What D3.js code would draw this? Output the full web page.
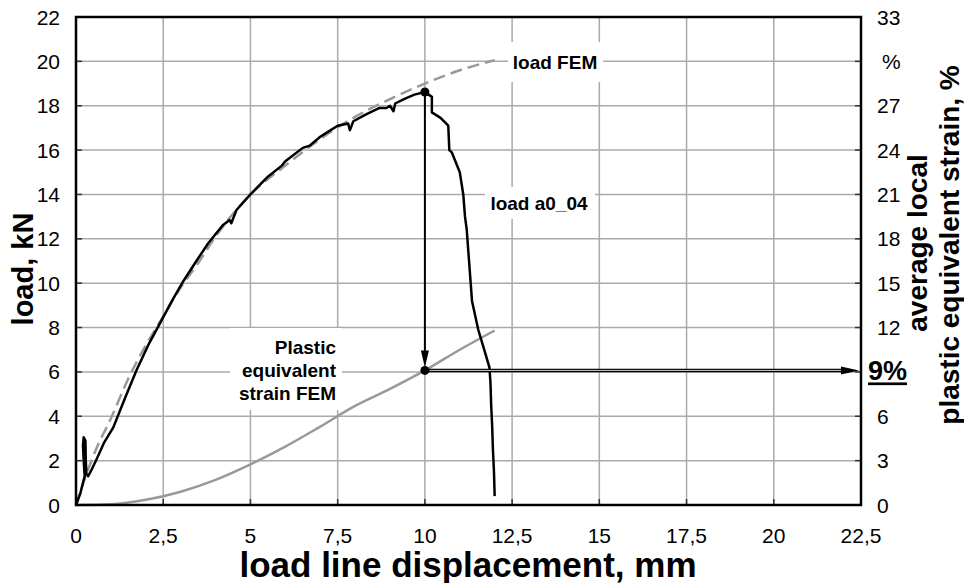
<!DOCTYPE html>
<html>
<head>
<meta charset="utf-8">
<script src="https://cdn.jsdelivr.net/npm/d3@7"></script>
<style>
  body { margin: 0; background: #fff; }
  text { font-family: "Liberation Sans", Arial, sans-serif; }
</style>
</head>
<body>
<svg id="chart" width="964" height="583"></svg>
<script>
// x ticks (displacement, mm) and labels with decimal comma
var xTicks = [0, 2.5, 5, 7.5, 10, 12.5, 15, 17.5, 20, 22.5];
var yTicks = [0, 2, 4, 6, 8, 10, 12, 14, 16, 18, 20, 22];
var y2Ticks = [0, 3, 6, 9, 12, 15, 18, 21, 24, 27, 30, 33];
var y2Labels = ["0", "3", "6", "", "12", "15", "18", "21", "24", "27", "", "33"];

// measured load, kN
var loadTest = [
  [0, 0], [0.12, 0.5], [0.2, 1.0], [0.25, 1.3], [0.22, 2.0], [0.2, 2.7], [0.22, 3.05],
  [0.27, 2.9], [0.28, 2.0], [0.3, 1.4], [0.35, 1.3], [0.45, 1.6], [0.6, 2.1], [0.8, 2.8],
  [1.07, 3.5], [1.4, 4.8], [1.74, 6.1], [2.1, 7.3], [2.41, 8.2], [2.75, 9.2], [3.08, 10.1],
  [3.45, 11.0], [3.79, 11.8], [4.2, 12.6], [4.4, 12.85], [4.45, 12.7], [4.6, 13.3], [5, 14.0],
  [5.5, 14.8], [5.9, 15.3], [6, 15.5], [6.5, 16.1], [6.7, 16.2], [7, 16.6], [7.3, 16.9],
  [7.5, 17.1], [7.8, 17.2], [7.85, 16.9], [7.95, 17.3], [8.3, 17.6], [8.7, 17.9], [8.9, 17.9],
  [9.0, 18.0], [9.1, 17.75], [9.15, 18.1], [9.4, 18.3], [9.7, 18.5], [10, 18.62],
  [10.2, 18.4], [10.2, 17.7], [10.45, 17.45], [10.67, 17.1], [10.7, 16.0], [10.77, 15.9],
  [11.0, 15.0], [11.1, 14.0], [11.15, 13.0], [11.2, 12.4], [11.35, 9.2], [11.53, 7.9],
  [11.7, 7.0], [11.85, 6.2], [11.88, 5.5], [11.9, 4.5], [11.93, 3.5],
  [11.95, 2.5], [11.98, 1.5], [12.0, 0.4]
];

// FEM load, kN
var loadFem = [
  [0, 0], [0.3, 1.4], [0.6, 2.6], [1, 3.9], [1.5, 5.7], [2, 7.2], [2.5, 8.5], [3, 9.8],
  [3.5, 10.9], [4, 12.1], [5, 14.0], [6, 15.3], [7, 16.5], [8, 17.5], [9, 18.3],
  [10, 19.0], [11, 19.6], [12, 20.05]
];

// plastic equivalent strain FEM, %
var strainFem = [
  [0, 0], [1, 0.05], [2, 0.35], [3, 0.9], [4, 1.7], [5, 2.75], [6, 3.95], [7, 5.3],
  [8, 6.7], [9, 7.85], [10, 9.1], [11, 10.5], [12, 11.8]
];

var peak = [10, 18.62];
var strainAtPeak = 9.1;

var svg = d3.select("#chart");
var margin = { left: 76, right: 103, top: 17, bottom: 78 };
var width = 964 - margin.left - margin.right,
  height = 583 - margin.top - margin.bottom;

var x = d3.scaleLinear().domain([0, 22.5]).range([margin.left, margin.left + width]);
var y = d3.scaleLinear().domain([0, 22]).range([margin.top + height, margin.top]);
var y2 = d3.scaleLinear().domain([0, 33]).range([margin.top + height, margin.top]);

var grid = svg.append("g").attr("stroke", "#aaa").attr("stroke-width", 1.5);
grid.selectAll(".vg").data(xTicks.slice(1, -1)).enter().append("line")
  .attr("x1", d => x(d)).attr("x2", d => x(d))
  .attr("y1", y(22)).attr("y2", y(0));
grid.selectAll(".hg").data(yTicks.slice(1, -1)).enter().append("line")
  .attr("y1", d => y(d)).attr("y2", d => y(d))
  .attr("x1", x(0)).attr("x2", x(22.5));

// inner tick marks
var tk = svg.append("g").attr("stroke", "#333").attr("stroke-width", 1.5);
tk.selectAll(".tl").data(yTicks).enter().append("line")
  .attr("x1", x(0)).attr("x2", x(0) + 6).attr("y1", d => y(d)).attr("y2", d => y(d));
tk.selectAll(".tr").data(y2Ticks).enter().append("line")
  .attr("x1", x(22.5) - 6).attr("x2", x(22.5)).attr("y1", d => y2(d)).attr("y2", d => y2(d));
tk.selectAll(".tb").data(xTicks).enter().append("line")
  .attr("x1", d => x(d)).attr("x2", d => x(d)).attr("y1", y(0)).attr("y2", y(0) - 6);

// label boxes (white, hide grid)
function box(x0, y0, w, h) {
  svg.append("rect").attr("x", x0).attr("y", y0).attr("width", w).attr("height", h).attr("fill", "#fff");
}
box(508, 42, 95, 40);
box(485, 187, 110, 32);
box(230, 328, 112, 82);

svg.append("path").datum(strainFem)
  .attr("fill", "none").attr("stroke", "#999").attr("stroke-width", 2.5)
  .attr("d", d3.line().x(d => x(d[0])).y(d => y2(d[1])).curve(d3.curveMonotoneX));

svg.append("path").datum(loadFem)
  .attr("fill", "none").attr("stroke", "#999").attr("stroke-width", 2.5)
  .attr("stroke-dasharray", "12,6")
  .attr("d", d3.line().x(d => x(d[0])).y(d => y(d[1])).curve(d3.curveMonotoneX));

svg.append("path").datum(loadTest)
  .attr("fill", "none").attr("stroke", "#000").attr("stroke-width", 2.5)
  .attr("stroke-linejoin", "round")
  .attr("d", d3.line().x(d => x(d[0])).y(d => y(d[1])));

// arrows
var yS = y2(strainAtPeak);
svg.append("line")
  .attr("x1", x(peak[0])).attr("x2", x(peak[0]))
  .attr("y1", y(peak[1])).attr("y2", yS - 10)
  .attr("stroke", "#000").attr("stroke-width", 2);
svg.append("path")
  .attr("d", "M" + (x(peak[0]) - 4) + "," + (yS - 20) + "L" + x(peak[0]) + "," + (yS - 3) +
    "L" + (x(peak[0]) + 4) + "," + (yS - 20) + "Z").attr("fill", "#000");
svg.append("line")
  .attr("x1", x(peak[0])).attr("x2", x(22.5) - 12)
  .attr("y1", yS).attr("y2", yS)
  .attr("stroke", "#000").attr("stroke-width", 3.5);
svg.append("line")
  .attr("x1", x(peak[0]) + 4).attr("x2", x(22.5) - 16)
  .attr("y1", yS).attr("y2", yS)
  .attr("stroke", "#fff").attr("stroke-width", 0.8);
svg.append("path")
  .attr("d", "M" + (x(22.5) - 20) + "," + (yS - 4) + "L" + (x(22.5) - 2) + "," + yS +
    "L" + (x(22.5) - 20) + "," + (yS + 4) + "Z").attr("fill", "#000");

svg.append("circle").attr("cx", x(peak[0])).attr("cy", y(peak[1])).attr("r", 4.5).attr("fill", "#000");
svg.append("circle").attr("cx", x(peak[0])).attr("cy", yS).attr("r", 4.5).attr("fill", "#000");

// frame
svg.append("rect").attr("x", x(0)).attr("y", y(22)).attr("width", x(22.5) - x(0)).attr("height", y(0) - y(22))
  .attr("fill", "none").attr("stroke", "#000").attr("stroke-width", 2.5);

// tick labels
var tl = svg.append("g").attr("font-size", 21).attr("fill", "#000");
tl.selectAll(".xl").data(xTicks).enter().append("text")
  .attr("x", d => x(d)).attr("y", 543).attr("text-anchor", "middle")
  .text(d => String(d).replace(".", ","));
tl.selectAll(".yl").data(yTicks).enter().append("text")
  .attr("x", 60).attr("y", d => y(d)).attr("dy", "0.36em").attr("text-anchor", "end")
  .text(d => d);
tl.selectAll(".y2l").data(y2Ticks).enter().append("text")
  .attr("x", 877).attr("y", d => y2(d)).attr("dy", "0.36em").attr("text-anchor", "start")
  .text((d, i) => y2Labels[i]);
tl.append("text").attr("x", 882).attr("y", y2(30)).attr("dy", "0.36em").text("%");

// annotations
var ann = svg.append("g").attr("font-size", 19).attr("font-weight", "bold");
ann.append("text").attr("x", 555).attr("y", 62).attr("dy", "0.35em").attr("text-anchor", "middle").text("load FEM");
ann.append("text").attr("x", 539).attr("y", 203).attr("dy", "0.35em").attr("text-anchor", "middle").text("load a0_04");
["Plastic", "equivalent", "strain FEM"].forEach(function (s, i) {
  ann.append("text").attr("x", 336).attr("y", 347 + i * 23).attr("dy", "0.35em").attr("text-anchor", "end").text(s);
});
svg.append("text").attr("x", 868).attr("y", 371).attr("dy", "0.35em").attr("text-anchor", "start")
  .attr("font-size", 27).attr("font-weight", "bold").attr("text-decoration", "underline").text("9%");

// axis titles
var at = svg.append("g").attr("font-weight", "bold").attr("text-anchor", "middle");
at.append("text").attr("x", 468).attr("y", 577).attr("font-size", 35).text("load line displacement, mm");
at.append("text").attr("transform", "translate(33,269) rotate(-90)").attr("font-size", 29).text("load, kN");
at.append("text").attr("transform", "translate(927,243) rotate(-90)").attr("font-size", 28).text("average local");
at.append("text").attr("transform", "translate(959,245) rotate(-90)").attr("font-size", 28).text("plastic equivalent strain, %");
</script>
</body>
</html>
